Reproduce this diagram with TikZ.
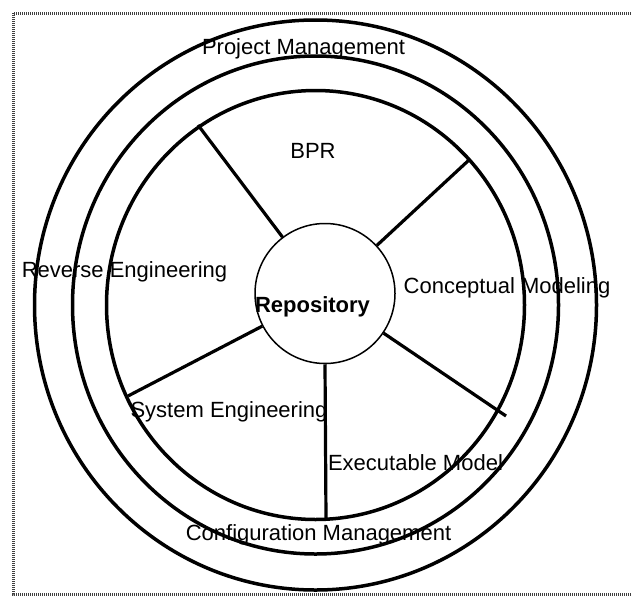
\documentclass[tikz,border=0pt]{standalone}
\usepackage{fontspec}
\setmainfont{Liberation Sans}

\begin{document}
\begin{tikzpicture}[x=1pt, y=-1pt,
    ring/.style={line width=3.5pt},
    spoke/.style={line width=3.2pt},
    lbl/.style={inner sep=0pt, anchor=base, font=\fontsize{22}{26}\selectfont}]
            \useasboundingbox (0,0) rectangle (631,597);
            \draw[line width=3pt, dash pattern=on 1pt off 1pt, black!75] (631,13) -- (13,13) -- (13,594) -- (631,594);
            
            \coordinate (c) at (315.5,305);
            \draw[ring] (c) ellipse [x radius=281, y radius=285];
            \draw[ring] (c) ellipse [x radius=243, y radius=249];
            \draw[ring] (c) ellipse [x radius=209, y radius=214.5];
            
            \node[circle, draw, line width=1.5pt, minimum size=140pt, inner sep=0pt] (repo) at (325,293.5) {};
            
            \coordinate (s1) at (198,125);
            \coordinate (s2) at (469,160);
            \coordinate (s3) at (506,416);
            \coordinate (s4) at (326,519);
            \coordinate (s5) at (128,396);
            
            \draw[spoke] (repo) -- (s1);
            \draw[spoke] (repo) -- (s2);
            \draw[spoke] (repo) -- (s3);
            \draw[spoke] (repo.south) -- (s4);
            \draw[spoke] (repo) -- (s5);
            
            \node[lbl] (pm) at (303.5,54) {Project Management};
            \node[lbl] (bpr) at (313,158) {BPR};
            \node[lbl] (re) at (124.5,277) {Reverse Engineering};
            \node[lbl] (cm) at (507,293) {Conceptual Modeling};
            \node[lbl, font=\fontsize{22}{26}\selectfont\bfseries] (repo_label) at (312.5,312) {Repository};
            \node[lbl] (se) at (229,417) {System Engineering};
            \node[lbl] (em) at (415.5,470) {Executable Model};
            \node[lbl] (cfg) at (318.5,540) {Configuration Management};
        \end{tikzpicture}
\end{document}
